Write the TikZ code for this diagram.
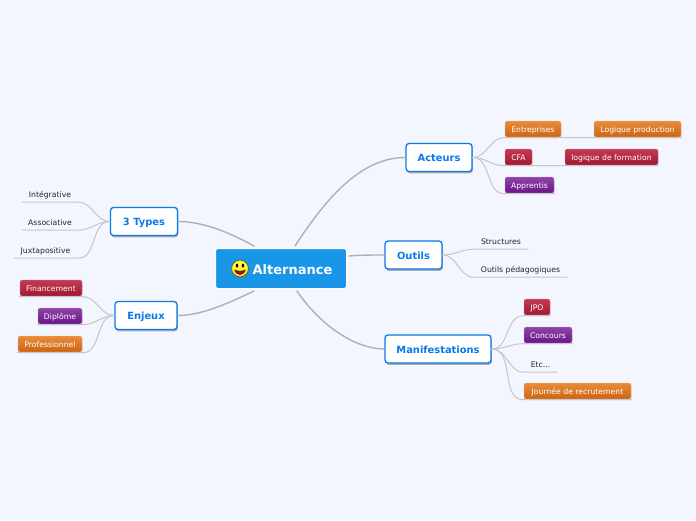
\documentclass[tikz,border=0pt]{standalone}
\usepackage{fontspec}
\setmainfont{DejaVu Sans}
\usetikzlibrary{shadows}
\definecolor{pagebg}{HTML}{F3F6FF}
\definecolor{rootblue}{HTML}{1A96E8}
\definecolor{mainblue}{HTML}{0A78EA}
\definecolor{twig}{HTML}{C6C6C8}
\definecolor{limb}{HTML}{B0B0B0}
\definecolor{orangetop}{HTML}{E88C3C}
\definecolor{orangelow}{HTML}{CC6410}
\definecolor{orangeedge}{HTML}{F4BE90}
\definecolor{redtop}{HTML}{C43A52}
\definecolor{redlow}{HTML}{A01830}
\definecolor{rededge}{HTML}{E08A98}
\definecolor{purpletop}{HTML}{8E44A8}
\definecolor{purplelow}{HTML}{6A1488}
\definecolor{purpleedge}{HTML}{C79AD8}
\begin{document}
\begin{tikzpicture}[x=1pt,y=-1pt,line cap=round,line join=round]
  \tikzset{
    rootbox/.style={draw=white,line width=1pt,fill=rootblue,rounded corners=2.5pt,text=white,inner sep=0pt,minimum width=131pt,minimum height=40pt,text height=11pt,text depth=0pt,font=\fontsize{13}{15}\selectfont\bfseries},
    mainbox/.style={draw=mainblue,line width=1.3pt,fill=white,rounded corners=3pt,text=mainblue,inner sep=0pt,minimum height=28pt,text height=8pt,text depth=0pt,font=\fontsize{9.9}{12}\selectfont\bfseries,drop shadow={shadow xshift=.8pt,shadow yshift=-1.8pt,opacity=.3,fill=black}},
    leafbox/.style={rounded corners=2pt,text=white,inner sep=0pt,outer sep=.7pt,minimum height=16pt,text height=8pt,text depth=.4pt,font=\fontsize{7.7}{9}\selectfont,drop shadow={shadow xshift=.3pt,shadow yshift=-1pt,opacity=.2,fill=black}},
    orangebox/.style={leafbox,draw=orangeedge,line width=.4pt,top color=orangetop,bottom color=orangelow},
    redbox/.style={leafbox,draw=rededge,line width=.4pt,top color=redtop,bottom color=redlow},
    purplebox/.style={leafbox,draw=purpleedge,line width=.4pt,top color=purpletop,bottom color=purplelow},
    plainleaf/.style={inner sep=0pt,minimum height=15pt,text height=6pt,text depth=.4pt,text=black!85,font=\fontsize{7.7}{9}\selectfont},
    limbline/.style={draw=limb,line width=1.4pt},
    twigline/.style={draw=twig,line width=1pt}
  }
  \fill[pagebg] (0,0) rectangle (696,520);
  \useasboundingbox (0,0) rectangle (696,520);
  % centre
  \node[rootbox] (root) at (281,268.5) {\hspace*{23pt}Alternance};
  \shade[top color=yellow!70!white,bottom color=yellow!80!orange,draw=black!60!orange,line width=.5pt] (240,268.5) circle (8.4);
  \fill[black] (237,265.5) circle (1.1 and 2); \fill[black] (243,265.5) circle (1.1 and 2);
  \fill[red!70!black,draw=black!80,line width=.5pt] (234.5,270) .. controls (236,276) and (244,276) .. (245.5,270) .. controls (242,271.5) and (238,271.5) .. (234.5,270) -- cycle;
  % main topics
  \node[mainbox,minimum width=66pt] (acteurs) at (439,157.5) {Acteurs};
  \node[mainbox,minimum width=57pt] (outils) at (413.5,255) {Outils};
  \node[mainbox,minimum width=106pt] (manif) at (438,349) {Manifestations};
  \node[mainbox,minimum width=67pt] (types) at (144,221.5) {3 Types};
  \node[mainbox,minimum width=62pt] (enjeux) at (146,315.5) {Enjeux};
  \coordinate (rootA) at (295,246); \coordinate (rootO) at (349,256); \coordinate (rootM) at (297,291);
  \coordinate (rootT) at (254,246); \coordinate (rootE) at (254,291);
  \draw[limbline] (rootA) .. controls (325,200) and (360,157.5) .. (acteurs.west);
  \draw[limbline] (rootO) .. controls (362,255) and (372,255) .. (outils.west);
  \draw[limbline] (rootM) .. controls (320,325) and (355,349) .. (manif.west);
  \draw[limbline] (rootT) .. controls (225,230) and (200,221.5) .. (types.east);
  \draw[limbline] (rootE) .. controls (225,305) and (200,315.5) .. (enjeux.east);
  % Acteurs
  \node[orangebox,minimum width=56pt] (entr) at (533,129) {Entreprises};
  \node[orangebox,minimum width=87pt] (logprod) at (637.5,129) {Logique production};
  \node[redbox,minimum width=27pt] (cfa) at (518.5,157) {CFA};
  \node[redbox,minimum width=93pt] (logform) at (611.5,157) {logique de formation};
  \node[purplebox,minimum width=49pt] (appr) at (529.5,185) {Apprentis};
  \draw[twigline] (acteurs.east) to[out=0,in=180] (entr.south west) -- (entr.south east) -- (logprod.south west) -- (logprod.south east);
  \draw[twigline] (acteurs.east) to[out=0,in=180] (cfa.south west) -- (cfa.south east) -- (logform.south west) -- (logform.south east);
  \draw[twigline] (acteurs.east) to[out=0,in=180] (appr.south west) -- (appr.south east);
  % Outils
  \node[plainleaf,minimum width=54pt] (struct) at (501,241.5) {Structures};
  \node[plainleaf,minimum width=93pt] (outped) at (520.5,269.5) {Outils pédagogiques};
  \draw[twigline] (outils.east) to[out=0,in=180] (struct.south west) -- (struct.south east);
  \draw[twigline] (outils.east) to[out=0,in=180] (outped.south west) -- (outped.south east);
  % Manifestations
  \node[redbox,minimum width=26pt] (jpo) at (537,307) {JPO};
  \node[purplebox,minimum width=48pt] (conc) at (548,335) {Concours};
  \node[plainleaf,minimum width=33pt] (etc) at (540.5,364.5) {Etc...};
  \node[orangebox,minimum width=107pt] (journee) at (577.5,391) {Journée de recrutement};
  \draw[twigline] (manif.east) to[out=0,in=180] (jpo.south west) -- (jpo.south east);
  \draw[twigline] (manif.east) to[out=0,in=180] (conc.south west) -- (conc.south east);
  \draw[twigline] (manif.east) to[out=0,in=180] (etc.south west) -- (etc.south east);
  \draw[twigline] (manif.east) to[out=0,in=180] (journee.south west) -- (journee.south east);
  % 3 Types
  \node[plainleaf,minimum width=56pt] (integ) at (50,194.5) {Intégrative};
  \node[plainleaf,minimum width=56pt] (assoc) at (50,222.5) {Associative};
  \node[plainleaf,minimum width=64pt] (juxta) at (46,250.5) {\hspace*{-1pt}Juxtapositive};
  \draw[twigline] (types.west) to[out=180,in=0] (integ.south east) -- (integ.south west);
  \draw[twigline] (types.west) to[out=180,in=0] (assoc.south east) -- (assoc.south west);
  \draw[twigline] (types.west) to[out=180,in=0] (juxta.south east) -- (juxta.south west);
  % Enjeux
  \node[redbox,minimum width=62pt] (finan) at (51,288) {Financement};
  \node[purplebox,minimum width=44pt] (dipl) at (60,316) {Diplôme};
  \node[orangebox,minimum width=64pt] (prof) at (50,344) {Professionnel};
  \draw[twigline] (enjeux.west) to[out=180,in=0] (finan.south east) -- (finan.south west);
  \draw[twigline] (enjeux.west) to[out=180,in=0] (dipl.south east) -- (dipl.south west);
  \draw[twigline] (enjeux.west) to[out=180,in=0] (prof.south east) -- (prof.south west);
\end{tikzpicture}
\end{document}
